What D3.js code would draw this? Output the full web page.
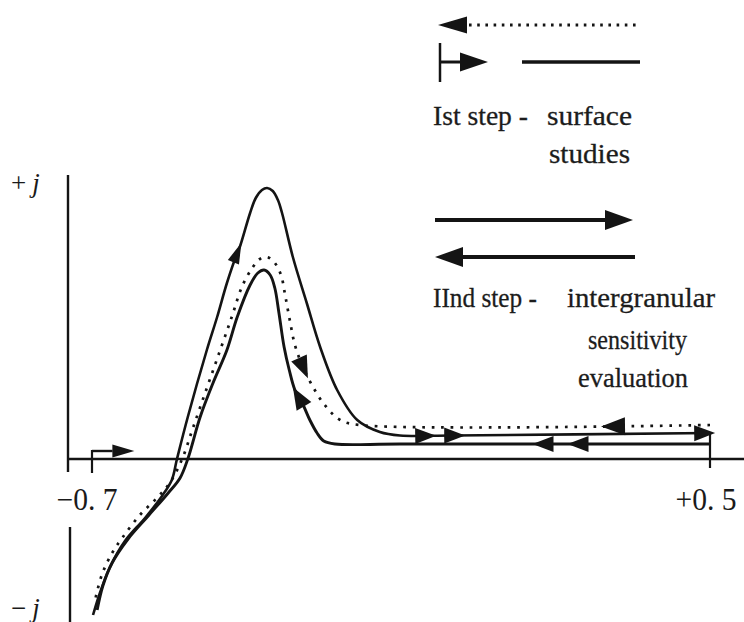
<!DOCTYPE html>
<html><head><meta charset="utf-8">
<script src="https://cdn.jsdelivr.net/npm/d3@7"></script>
<style>body{margin:0;background:#fff}svg{display:block}</style>
</head><body>
<svg id="c" width="744" height="622"></svg>
<script>
// ---------- data (E in V, j in arbitrary units) ----------
// Outer solid curve: forward scan (drawn from -0.7 V to +0.5 V)
const outerE = [-0.698,-0.684,-0.665,-0.636,-0.597,-0.564,-0.545,-0.535,-0.514,-0.477,-0.457,-0.438,-0.418,-0.413,-0.393,-0.382,-0.370,-0.360,-0.349,-0.339,-0.331,-0.310,-0.283,-0.257,-0.224,-0.185,-0.141,-0.102,0.000,0.500];
const outerJ = [-1.56,-1.33,-1.08,-0.82,-0.59,-0.37,-0.21,0.00,0.42,1.09,1.42,1.76,2.06,2.12,2.46,2.61,2.69,2.71,2.68,2.59,2.46,2.02,1.56,1.12,0.69,0.39,0.27,0.235,0.235,0.26];
// Inner solid curve: reverse scan (drawn from +0.5 V back to -0.7 V)
const innerE = [0.500,-0.102,-0.228,-0.250,-0.263,-0.277,-0.290,-0.306,-0.317,-0.327,-0.337,-0.345,-0.354,-0.366,-0.378,-0.393,-0.418,-0.438,-0.465,-0.490,-0.514,-0.529,-0.552,-0.591,-0.630,-0.661,-0.679,-0.690];
const innerJ = [0.15,0.15,0.15,0.18,0.26,0.39,0.54,0.69,0.89,1.12,1.46,1.71,1.84,1.89,1.86,1.74,1.42,1.09,0.76,0.42,0.00,-0.19,-0.34,-0.57,-0.80,-1.04,-1.27,-1.51];
// Dotted curve: 1st step reverse scan (drawn from +0.5 V back to -0.7 V)
const dotE = [0.500,-0.180,-0.218,-0.248,-0.273,-0.292,-0.306,-0.316,-0.325,-0.333,-0.345,-0.360,-0.374,-0.389,-0.409,-0.428,-0.451,-0.477,-0.504,-0.525,-0.549,-0.574,-0.607,-0.640,-0.661,-0.681,-0.694];
const dotJ = [0.34,0.34,0.39,0.54,0.74,0.94,1.14,1.39,1.64,1.84,1.96,2.02,2.00,1.91,1.72,1.43,1.09,0.71,0.31,0.00,-0.24,-0.39,-0.56,-0.78,-0.94,-1.16,-1.41];
// Direction arrows on the curves (which curve, E, j, +1 along drawing order / -1 against)
const arrowCurve = ["outer","outer","outer","outer","inner","inner","inner","dot","dot"];
const arrowE     = [-0.418,-0.053,0.005,0.490,0.176,0.244,-0.298,0.312,-0.286];
const arrowJ     = [2.06,0.235,0.235,0.26,0.15,0.15,0.62,0.34,0.92];
const arrowDir   = [1,1,1,1,1,1,1,1,-1];
// Axis tick labels
const xTickValues = [-0.7, 0.5];
const xTickLabels = ["\u22120. 7", "+0. 5"];
const yAxisLabels = ["+", "\u2212"];
// Legend texts
const legendStep1 = ["Ist step -", "surface", "studies"];
const legendStep2 = ["IInd step -", "intergranular", "sensitivity", "evaluation"];

// ---------- drawing ----------
const ink = "#141414";
const svg = d3.select("#c");
const x = d3.scaleLinear().domain([-0.7, 0.5]).range([92, 710]);
const y = d3.scaleLinear().domain([0, 1]).range([459, 359]);
const axisX = x.range()[0] - 24;

// axes
svg.append("line").attr("x1", axisX).attr("x2", axisX).attr("y1", y(2.84)).attr("y2", y(-0.13))
  .attr("stroke", ink).attr("stroke-width", 2.4);
svg.append("line").attr("x1", axisX + 2).attr("x2", axisX + 2).attr("y1", y(-0.68)).attr("y2", y(-1.65))
  .attr("stroke", ink).attr("stroke-width", 2.4);
svg.append("line").attr("x1", axisX).attr("x2", 744).attr("y1", y(0)).attr("y2", y(0))
  .attr("stroke", ink).attr("stroke-width", 2.4);

// start marker at -0.7
svg.append("line").attr("x1", x(-0.7)).attr("x2", x(-0.7)).attr("y1", y(0.09)).attr("y2", y(-0.14))
  .attr("stroke", ink).attr("stroke-width", 2.2);
svg.append("line").attr("x1", x(-0.7)).attr("x2", x(-0.66)).attr("y1", y(0.08)).attr("y2", y(0.08))
  .attr("stroke", ink).attr("stroke-width", 2.4);
function tri(cx, cy, ux, uy, len, hw) {
  const px = -uy, py = ux;
  const tx = cx + ux * len / 2, ty = cy + uy * len / 2;
  const bx = cx - ux * len / 2, by = cy - uy * len / 2;
  return `M${tx},${ty}L${bx + px * hw},${by + py * hw}L${bx - px * hw},${by - py * hw}Z`;
}
svg.append("path").attr("d", tri((x(-0.66) + x(-0.626)) / 2 + 2, y(0.08), 1, 0, 22, 6.5)).attr("fill", ink);
// end tick at +0.5
svg.append("line").attr("x1", x(0.5)).attr("x2", x(0.5)).attr("y1", y(0.26)).attr("y2", y(-0.09))
  .attr("stroke", ink).attr("stroke-width", 2.2);

// curves
const line = d3.line().x(d => x(d[0])).y(d => y(d[1])).curve(d3.curveCatmullRom.alpha(0.5));
const curves = {
  outer: svg.append("path").datum(d3.zip(outerE, outerJ)).attr("d", line)
    .attr("fill", "none").attr("stroke", ink).attr("stroke-width", 2.6),
  inner: svg.append("path").datum(d3.zip(innerE, innerJ)).attr("d", line)
    .attr("fill", "none").attr("stroke", ink).attr("stroke-width", 2.9),
  dot: svg.append("path").datum(d3.zip(dotE, dotJ)).attr("d", line)
    .attr("fill", "none").attr("stroke", ink).attr("stroke-width", 2.7)
    .attr("stroke-dasharray", "2.7,6.8")
};

// arrows along curves
arrowCurve.forEach((c, i) => {
  const node = curves[c].node();
  const L = node.getTotalLength();
  const px = x(arrowE[i]), py = y(arrowJ[i]);
  let best = 0, bd = Infinity;
  for (let l = 0; l <= L; l += 1) {
    const p = node.getPointAtLength(l);
    const d = (p.x - px) ** 2 + (p.y - py) ** 2;
    if (d < bd) { bd = d; best = l; }
  }
  const p0 = node.getPointAtLength(Math.max(0, best - 4));
  const p1 = node.getPointAtLength(Math.min(L, best + 4));
  const pc = node.getPointAtLength(best);
  let ux = p1.x - p0.x, uy = p1.y - p0.y;
  const n = Math.hypot(ux, uy); ux = ux / n * arrowDir[i]; uy = uy / n * arrowDir[i];
  const flat = Math.abs(uy) < 0.2;
  let len, hw;
  if (flat) { len = c === "dot" ? 24 : 21; hw = c === "dot" ? 9 : 8; }
  else if (c === "outer") { len = 21; hw = 6; }
  else { len = 22; hw = 8.5; }
  svg.append("path").attr("d", tri(pc.x, pc.y, ux, uy, len, hw)).attr("fill", ink);
});

// tick labels
svg.selectAll(".xt").data(xTickValues).enter().append("text")
  .attr("x", d => x(d) + (d < 0 ? -5 : -4)).attr("y", 510)
  .attr("text-anchor", "middle")
  .attr("font-family", "'Liberation Serif', 'DejaVu Serif', serif").attr("font-size", 31)
  .attr("textLength", 61).attr("lengthAdjust", "spacingAndGlyphs")
  .attr("fill", "#1a1a1a").text((d, i) => xTickLabels[i]);

// y axis labels (+j, -j)
[[2.7, 0], [-1.55, 1]].forEach(([jv, k]) => {
  const t = svg.append("text").attr("x", 11).attr("y", y(jv) + 3)
    .attr("font-family", "'Liberation Serif', serif").attr("font-size", 27).attr("fill", "#1a1a1a");
  t.append("tspan").text(yAxisLabels[k]);
  t.append("tspan").attr("dx", 6).attr("font-style", "italic").text("j");
});

// legend
function hline(x1, x2, yy, w, dash) {
  const l = svg.append("line").attr("x1", x1).attr("x2", x2).attr("y1", yy).attr("y2", yy)
    .attr("stroke", ink).attr("stroke-width", w);
  if (dash) l.attr("stroke-dasharray", dash);
}
hline(469, 641, 25, 2.8, "2.6,5.6");
svg.append("path").attr("d", tri(452.5, 25, -1, 0, 29, 8.5)).attr("fill", ink);
svg.append("line").attr("x1", 440).attr("x2", 440).attr("y1", 43).attr("y2", 82).attr("stroke", ink).attr("stroke-width", 2.5);
hline(440, 462, 62, 3);
svg.append("path").attr("d", tri(474, 62, 1, 0, 28, 9.5)).attr("fill", ink);
hline(522, 640, 62, 3.5);
hline(435, 606, 220, 4);
svg.append("path").attr("d", tri(619, 220, 1, 0, 28, 10)).attr("fill", ink);
hline(462, 635, 257, 4);
svg.append("path").attr("d", tri(449, 257, -1, 0, 28, 10)).attr("fill", ink);

const tf = "'Liberation Serif', 'DejaVu Serif', serif";
function txt(s, xx, yy, w) {
  svg.append("text").attr("x", xx).attr("y", yy).attr("font-family", tf).attr("font-size", 28)
    .attr("fill", "#1c1c1c").attr("stroke", "#1c1c1c").attr("stroke-width", 0.3)
    .attr("textLength", w).attr("lengthAdjust", "spacingAndGlyphs").text(s);
}
txt(legendStep1[0], 433, 125, 95);
txt(legendStep1[1], 547, 125, 85);
txt(legendStep1[2], 549, 163, 81);
txt(legendStep2[0], 433, 307, 104);
txt(legendStep2[1], 567, 307, 148);
txt(legendStep2[2], 588, 349, 99);
txt(legendStep2[3], 578, 387, 110);
</script>
</body></html>
